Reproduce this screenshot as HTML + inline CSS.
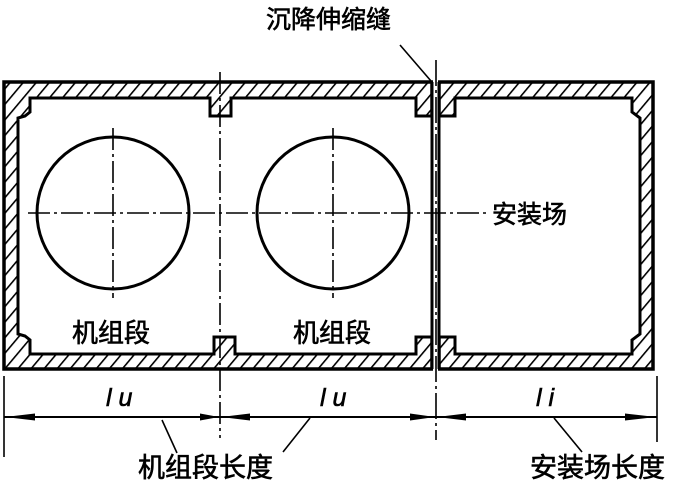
<!DOCTYPE html>
<html><head><meta charset="utf-8"><style>
html,body{margin:0;padding:0;background:#fff}
svg{display:block}
text{font-family:"Liberation Sans","Noto Sans CJK SC",sans-serif;fill:#000}
</style></head><body>
<svg width="675" height="491" viewBox="0 0 675 491" xmlns="http://www.w3.org/2000/svg">
<defs>
<pattern id="h" patternUnits="userSpaceOnUse" width="10" height="10" patternTransform="rotate(40)">
<rect width="10" height="10" fill="#fff"/>
<line x1="0" y1="0" x2="0" y2="10" stroke="#000" stroke-width="3.2"/>
</pattern>
</defs>
<rect x="4" y="82" width="428" height="287" fill="url(#h)" stroke="#000" stroke-width="3.5"/>
<rect x="439" y="82" width="214" height="287" fill="url(#h)" stroke="#000" stroke-width="3.5"/>
<path d="M30,98 L210,98 L210,116 L231,116 L231,98 L416,98 L416,116 L432,116 L432,98
 L439,98 L439,116 L455,116 L455,98 L632,98 L632,112 L640,118 L640,334 L632,340 L632,354
 L455,354 L455,337 L439,337 L439,354 L432,354 L432,337 L416,337 L416,354
 L235,354 L235,337 L214,337 L214,354 L30,354 L30,340 L25,336 L18,334 L18,118 L25,116 L30,112 Z"
 fill="#fff" stroke="#000" stroke-width="3" stroke-linejoin="miter"/>
<rect x="433" y="80" width="5" height="292" fill="#fff"/>
<line x1="432" y1="82" x2="432" y2="369" stroke="#000" stroke-width="3"/>
<line x1="439" y1="82" x2="439" y2="369" stroke="#000" stroke-width="3"/>
<circle cx="113" cy="213" r="76" fill="none" stroke="#000" stroke-width="3"/>
<circle cx="333" cy="213" r="76" fill="none" stroke="#000" stroke-width="3"/>
<g stroke="#000" stroke-width="1.6" fill="none">
<line x1="28" y1="213" x2="488" y2="213" stroke-dasharray="22,4,3,4"/>
<line x1="113" y1="128" x2="113" y2="298" stroke-dasharray="22,4,3,4"/>
<line x1="333" y1="128" x2="333" y2="298" stroke-dasharray="22,4,3,4"/>
<line x1="220" y1="72" x2="220" y2="438" stroke-dasharray="22,4,3,4"/>
<line x1="436" y1="60" x2="436" y2="440" stroke-dasharray="26,4,3,4"/>
<line x1="4" y1="376" x2="4" y2="457"/>
<line x1="657" y1="376" x2="657" y2="442"/>
<line x1="4" y1="417" x2="657" y2="417" stroke-width="2"/>
<line x1="400" y1="45" x2="431" y2="81"/>
<line x1="162" y1="420" x2="177" y2="453"/>
<line x1="310" y1="418" x2="283" y2="452"/>
<line x1="554" y1="418" x2="582" y2="452"/>
</g>
<g fill="#000">
<path d="M5,417 L35,413.5 L35,420.5 Z"/>
<path d="M219,417 L200,413.5 L200,420.5 Z"/>
<path d="M221,417 L250,413.5 L250,420.5 Z"/>
<path d="M435,417 L410,413.5 L410,420.5 Z"/>
<path d="M437,417 L466,413.5 L466,420.5 Z"/>
<path d="M656,417 L625,413.5 L625,420.5 Z"/>
</g>
<g stroke="#000" stroke-width="0.6">
<text x="266" y="28" font-size="25">沉降伸缩缝</text>
<text x="492" y="223" font-size="25">安装场</text>
<text x="72" y="342" font-size="26">机组段</text>
<text x="293" y="342" font-size="26">机组段</text>
<text x="106" y="406" font-size="25" font-style="italic" font-family="Liberation Serif">l u</text>
<text x="320" y="406" font-size="25" font-style="italic" font-family="Liberation Serif">l u</text>
<text x="536" y="406" font-size="25" font-style="italic" font-family="Liberation Serif">l i</text>
<text x="138" y="477" font-size="27">机组段长度</text>
<text x="530" y="477" font-size="27">安装场长度</text>
</g>
</svg>
</body></html>
